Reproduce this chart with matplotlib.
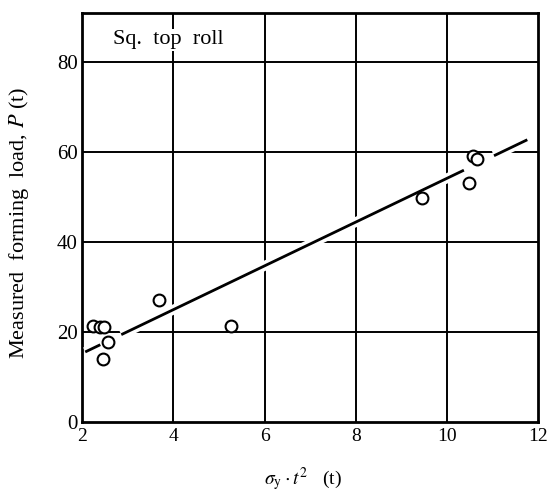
import numpy as np
import matplotlib.pyplot as plt
import matplotlib.patheffects as pe

plt.rcParams['font.family'] = ['Liberation Serif', 'DejaVu Serif']
plt.rcParams['mathtext.fontset'] = 'stix'

# measured points
x_pts = [2.24, 2.40, 2.49, 2.46, 2.57, 3.69, 5.27, 9.45, 10.48, 10.57, 10.66]
y_pts = [21.4, 21.2, 21.2, 14.0, 17.8, 27.2, 21.4, 49.9, 53.2, 59.2, 58.4]

# fitted line P = a*x + b, drawn in pieces (gaps as in the original)
slope = 4.87
icpt = 5.5
seg_start = [2.07, 2.86, 11.03]
seg_end = [2.40, 10.37, 11.76]

fig = plt.figure(figsize=(5.47, 4.93), dpi=100)
ax = fig.add_axes([0.150, 0.144, 0.834, 0.830])

ax.set_xlim(2, 12)
ax.set_ylim(0, 91)
ax.set_xticks([2, 4, 6, 8, 10, 12])
ax.set_yticks([0, 20, 40, 60, 80])

for xv in [4, 6, 8, 10]:
    ax.axvline(xv, color='black', lw=1.4, zorder=1)
for yv in [20, 40, 60, 80]:
    ax.axhline(yv, color='black', lw=1.4, zorder=1)

for s, e in zip(seg_start, seg_end):
    xs = np.array([s, e])
    ax.plot(xs, slope * xs + icpt, color='black', lw=2.0, zorder=3,
            solid_capstyle='butt',
            path_effects=[pe.Stroke(linewidth=7, foreground='white'), pe.Normal()])

ax.plot(x_pts, y_pts, 'o', ms=8.5, mfc='white', mec='black', mew=1.5, zorder=4)

ax.text(3.9, 85.0, 'Sq.  top  roll', fontsize=16, ha='center', va='center',
        zorder=5, bbox=dict(facecolor='white', edgecolor='none', pad=1))

for sp in ax.spines.values():
    sp.set_linewidth(2)
ax.tick_params(length=0, pad=3)
ax.tick_params(axis='x', labelsize=14, pad=4)
ax.tick_params(axis='y', labelsize=15)

ax.set_xlabel(r'$\sigma_{\rm y}\cdot t^{2}$   (t)', fontsize=14)
ax.set_ylabel(r'Measured  forming  load, $P$ (t)', fontsize=16)
ax.xaxis.set_label_coords(0.485, -0.105)
ax.yaxis.set_label_coords(-0.112, 0.487)

plt.savefig('out.png', dpi=100)
